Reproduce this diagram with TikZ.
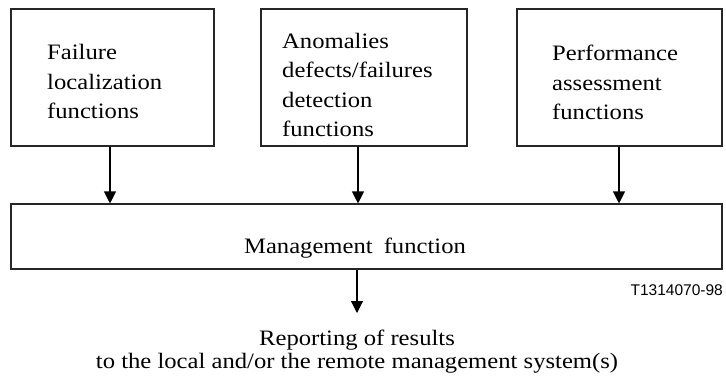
\documentclass[tikz,border=0pt]{standalone}
\usepackage{fontspec}
\setmainfont{Liberation Serif}[FakeStretch=1.12]
\newfontfamily\figsans{Liberation Sans}
\usetikzlibrary{arrows.meta}
\begin{document}
\begin{tikzpicture}[x=1pt,y=-1pt,
  boxline/.style={draw=black!85,line width=1.1pt},
  arr/.style={draw=black,line width=1.1pt,-{Triangle[width=12pt,length=12pt]}},
  boxtext/.style={anchor=base west,inner sep=0pt,align=left,font=\fontsize{22}{29.5}\selectfont},
  btext/.style={inner sep=0pt,font=\fontsize{22}{23}\selectfont}]
\useasboundingbox (0,0) rectangle (726,381);
% boxes
\node[boxline,minimum width=203pt,minimum height=137pt,inner sep=0pt] (a) at (112.5,77.5) {};
\node[boxline,minimum width=206pt,minimum height=137pt,inner sep=0pt] (b) at (364,77.5) {};
\node[boxline,minimum width=205pt,minimum height=137pt,inner sep=0pt] (c) at (619.5,77.5) {};
\node[boxline,minimum width=711pt,minimum height=65pt,inner sep=0pt] (m) at (366.5,236.5) {};
% texts (anchor = baseline of last line)
\node[boxtext] (ta) at (47,118.5) {Failure\\localization\\functions};
\node[boxtext] (tb) at (282,136.5) {Anomalies\\defects/failures\\detection\\functions};
\node[boxtext] (tc) at (552,119.5) {Performance\\assessment\\functions};
\node[btext,anchor=base] (tm) at (355,253) {Management\hspace{11pt}function};
\node[font=\figsans\fontsize{15.5}{18}\selectfont,anchor=base east,inner sep=0pt] (id) at (723,295) {T1314070-98};
\node[btext,anchor=base,align=center] (rep) at (357,368) {Reporting of results\\to the local and/or the remote management system(s)};
% connectors
\coordinate (xa) at (110,0);
\coordinate (xb) at (358,0);
\coordinate (xc) at (619,0);
\coordinate (xm) at (357,0);
\coordinate (tip) at (357,313);
\draw[arr] (a.south -| xa) -- (m.north -| xa);
\draw[arr] (b.south -| xb) -- (m.north -| xb);
\draw[arr] (c.south -| xc) -- (m.north -| xc);
\draw[arr] (m.south -| xm) -- (tip);
\end{tikzpicture}
\end{document}
